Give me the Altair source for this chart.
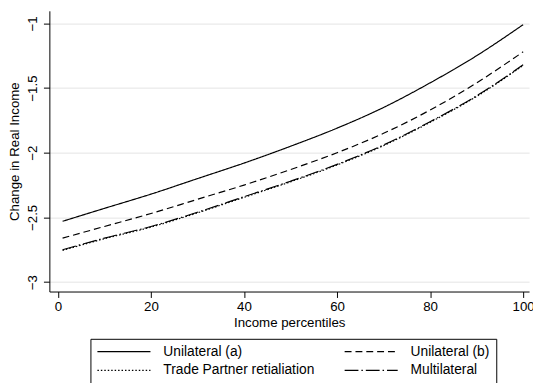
import altair as alt
import pandas as pd

percentiles = [1, 10, 20, 30, 40, 50, 60, 70, 80, 90, 100]
unilateral_a = [-2.53, -2.43, -2.32, -2.20, -2.08, -1.95, -1.81, -1.65, -1.46, -1.25, -1.01]
unilateral_b = [-2.66, -2.57, -2.47, -2.36, -2.25, -2.13, -2.00, -1.85, -1.67, -1.46, -1.22]
trade_partner = [-2.755, -2.665, -2.575, -2.465, -2.345, -2.225, -2.095, -1.945, -1.765, -1.565, -1.325]
multilateral = [-2.75, -2.66, -2.57, -2.46, -2.34, -2.22, -2.09, -1.94, -1.76, -1.56, -1.32]

# legend order (column-major fill): (a), Trade | (b), Multi
series_names = ["Unilateral (a)", "Trade Partner retialiation", "Unilateral (b)", "Multilateral"]
series_values = [unilateral_a, trade_partner, unilateral_b, multilateral]
x_ticks = [0, 20, 40, 60, 80, 100]
y_ticks = [-3, -2.5, -2, -1.5, -1]

rows = []
for name, vals in zip(series_names, series_values):
    for p, v in zip(percentiles, vals):
        rows.append({"pct": p, "value": v, "series": name})
df = pd.DataFrame(rows)

dashes = [[1, 0], [1.5, 2], [7, 4], [14, 3, 1.5, 3]]
FONT = "Liberation Sans"

chart = alt.Chart(df).mark_line(
    color="black", strokeWidth=1.2, interpolate="monotone", clip=True
).encode(
    x=alt.X(
        "pct:Q",
        scale=alt.Scale(domain=[-1.84, 101.27], nice=False, zero=False),
        axis=alt.Axis(
            values=x_ticks, format="d", title="Income percentiles", grid=False,
            tickSize=6, labelPadding=2, titlePadding=3,
        ),
    ),
    y=alt.Y(
        "value:Q",
        scale=alt.Scale(domain=[-3.073, -0.903], nice=False, zero=False),
        axis=alt.Axis(
            values=y_ticks, format=".1~f", title="Change in Real Income",
            grid=True, gridColor="#e4e4e4", gridWidth=1,
            labelAngle=270, labelAlign="center", labelBaseline="bottom",
            tickSize=6, labelPadding=4, titlePadding=4,
        ),
    ),
    strokeDash=alt.StrokeDash(
        "series:N",
        scale=alt.Scale(domain=series_names, range=dashes),
        legend=alt.Legend(
            title=None, orient="none", legendX=41.7, legendY=333, columns=2,
            symbolType="M-5,0H5", symbolSize=116, symbolStrokeWidth=1.2,
            symbolStrokeColor="black", symbolFillColor="transparent",
            symbolOffset=21,
            labelFontSize=14, labelFont=FONT, labelColor="black", labelOffset=33,
            columnPadding=27, rowPadding=5, padding=6,
            strokeColor="black", fillColor="white", cornerRadius=0,
        ),
    ),
).properties(
    width=487, height=285, autosize="none", background="white",
    padding={"left": 42, "top": 0, "right": 4, "bottom": 90},
).configure_view(stroke=None).configure_axis(
    domainColor="black", tickColor="black", labelColor="black", titleColor="black",
    labelFont=FONT, titleFont=FONT, labelFontSize=13.5, titleFontSize=13.5,
    titleFontWeight="normal", domainWidth=1, tickWidth=1,
)

chart.save("out.html", embed_options={"renderer": "svg", "actions": False})
